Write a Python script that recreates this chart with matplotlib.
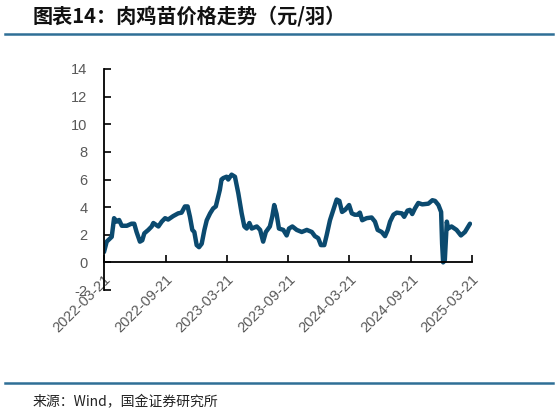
import matplotlib
matplotlib.use("Agg")
import matplotlib.pyplot as plt
import matplotlib.dates as mdates
import pandas as pd

plt.rcParams['font.family'] = ['Liberation Sans', 'Noto Sans CJK SC', 'DejaVu Sans']
plt.rcParams['axes.unicode_minus'] = False

dates = [
    "2022-03-21", "2022-03-29", "2022-04-13", "2022-04-20", "2022-04-28", "2022-05-05",
    "2022-05-13", "2022-05-28", "2022-06-11", "2022-06-19", "2022-06-26", "2022-07-06",
    "2022-07-13", "2022-07-19", "2022-07-31", "2022-08-10", "2022-08-15", "2022-08-30",
    "2022-09-09", "2022-09-19", "2022-09-28", "2022-10-13", "2022-10-28", "2022-11-07",
    "2022-11-17", "2022-11-25", "2022-12-02", "2022-12-09", "2022-12-15", "2022-12-22",
    "2022-12-29", "2023-01-06", "2023-01-14", "2023-01-21", "2023-01-31", "2023-02-09",
    "2023-02-17", "2023-02-24", "2023-03-01", "2023-03-06", "2023-03-11", "2023-03-21",
    "2023-03-26", "2023-04-05", "2023-04-15", "2023-04-25", "2023-05-05", "2023-05-13",
    "2023-05-20", "2023-05-28", "2023-06-04", "2023-06-19", "2023-06-29", "2023-07-08",
    "2023-07-16", "2023-07-28", "2023-08-04", "2023-08-10", "2023-08-17", "2023-08-24",
    "2023-09-06", "2023-09-16", "2023-09-23", "2023-10-03", "2023-10-16", "2023-10-31",
    "2023-11-15", "2023-11-30", "2023-12-09", "2023-12-19", "2023-12-27", "2024-01-06",
    "2024-01-13", "2024-01-23", "2024-02-02", "2024-02-12", "2024-02-20", "2024-02-28",
    "2024-03-08", "2024-03-20", "2024-03-28", "2024-04-06", "2024-04-14", "2024-04-21",
    "2024-04-28", "2024-05-11", "2024-05-26", "2024-06-05", "2024-06-13", "2024-06-25",
    "2024-07-05", "2024-07-13", "2024-07-20", "2024-07-30", "2024-08-09", "2024-08-24",
    "2024-08-31", "2024-09-10", "2024-09-17", "2024-09-24", "2024-10-02", "2024-10-12",
    "2024-10-24", "2024-11-11", "2024-11-23", "2024-12-01", "2024-12-11", "2024-12-19",
    "2024-12-22", "2024-12-25", "2024-12-30", "2025-01-05", "2025-01-09", "2025-01-19",
    "2025-02-03", "2025-02-16", "2025-02-28", "2025-03-15",
]
prices = [
    0.75, 1.5, 1.85, 3.2, 2.95, 3.07,
    2.65, 2.65, 2.8, 2.8, 2.2, 1.5,
    1.6, 2.1, 2.35, 2.6, 2.85, 2.6,
    2.95, 3.2, 3.1, 3.35, 3.55, 3.6,
    4.05, 4.05, 3.3, 2.35, 2.2, 1.25,
    1.1, 1.35, 2.35, 3.05, 3.55, 3.9,
    4.05, 4.75, 5.25, 6.0, 6.1, 6.2,
    6.0, 6.35, 6.2, 5.0, 3.55, 2.6,
    2.45, 2.85, 2.45, 2.6, 2.35, 1.5,
    2.2, 2.6, 3.3, 4.15, 3.5, 2.45,
    2.35, 1.95, 2.45, 2.6, 2.35, 2.2,
    2.35, 2.2, 1.9, 1.75, 1.25, 1.25,
    1.95, 3.05, 3.8, 4.55, 4.45, 3.65,
    3.8, 4.15, 3.55, 3.45, 3.45, 3.6,
    3.05, 3.2, 3.25, 2.95, 2.35, 2.2,
    1.9, 2.35, 2.95, 3.45, 3.6, 3.55,
    3.3, 3.75, 3.8, 3.5, 3.9, 4.3,
    4.2, 4.25, 4.5, 4.45, 4.15, 3.65,
    1.35, 0.0, 0.15, 2.95, 2.45, 2.6,
    2.35, 1.95, 2.2, 2.8,
]
tick_dates = ["2022-03-21", "2022-09-21", "2023-03-21", "2023-09-21",
              "2024-03-21", "2024-09-21", "2025-03-21"]
y_ticks = [-2, 0, 2, 4, 6, 8, 10, 12, 14]

title = "图表14：肉鸡苗价格走势（元/羽）"
source = "来源：Wind，国金证券研究所"

x = pd.to_datetime(dates)
xt = pd.to_datetime(tick_dates)

fig = plt.figure(figsize=(5.59, 4.15), dpi=100)
ax = fig.add_axes([104 / 559, (415 - 290) / 415, 368 / 559, 221 / 415])

ax.plot(x, prices, color='#0b4a6f', lw=3.2, solid_joinstyle='round', solid_capstyle='round')

ax.set_ylim(-2, 14)
ax.set_yticks(y_ticks)
ax.set_xlim(xt[0], xt[-1])
ax.set_xticks(xt)
ax.xaxis.set_major_formatter(mdates.DateFormatter('%Y-%m-%d'))

for s in ['top', 'right']:
    ax.spines[s].set_visible(False)
ax.spines['bottom'].set_position(('data', 0))
ax.spines['left'].set_linewidth(1.3)
ax.spines['bottom'].set_linewidth(1.3)

ax.tick_params(axis='y', direction='in', length=5, width=1.2, labelsize=10.5,
               labelcolor='#595959', pad=12)
ax.tick_params(axis='x', direction='in', length=5, width=1.2, labelsize=10.5,
               labelcolor='#595959', pad=7)
for lbl in ax.get_xticklabels():
    lbl.set_rotation(45)
    lbl.set_ha('right')
    lbl.set_rotation_mode('anchor')

cjk = ['Noto Sans CJK SC', 'DejaVu Sans']
fig.text(33 / 559, 1 - 16 / 415, title, fontsize=14.5, fontweight='bold',
         family=cjk, va='center', ha='left', color='#111111')
fig.add_artist(plt.Line2D([5 / 559, 553 / 559], [1 - 34 / 415, 1 - 34 / 415],
                          color='#2f6f96', lw=1.8))
fig.add_artist(plt.Line2D([5 / 559, 553 / 559], [1 - 383 / 415, 1 - 383 / 415],
                          color='#2f6f96', lw=1.8))
fig.text(33 / 559, 1 - 402 / 415, source, fontsize=10, family=cjk,
         va='center', ha='left', color='#222222')

fig.savefig('out.png', dpi=100)
